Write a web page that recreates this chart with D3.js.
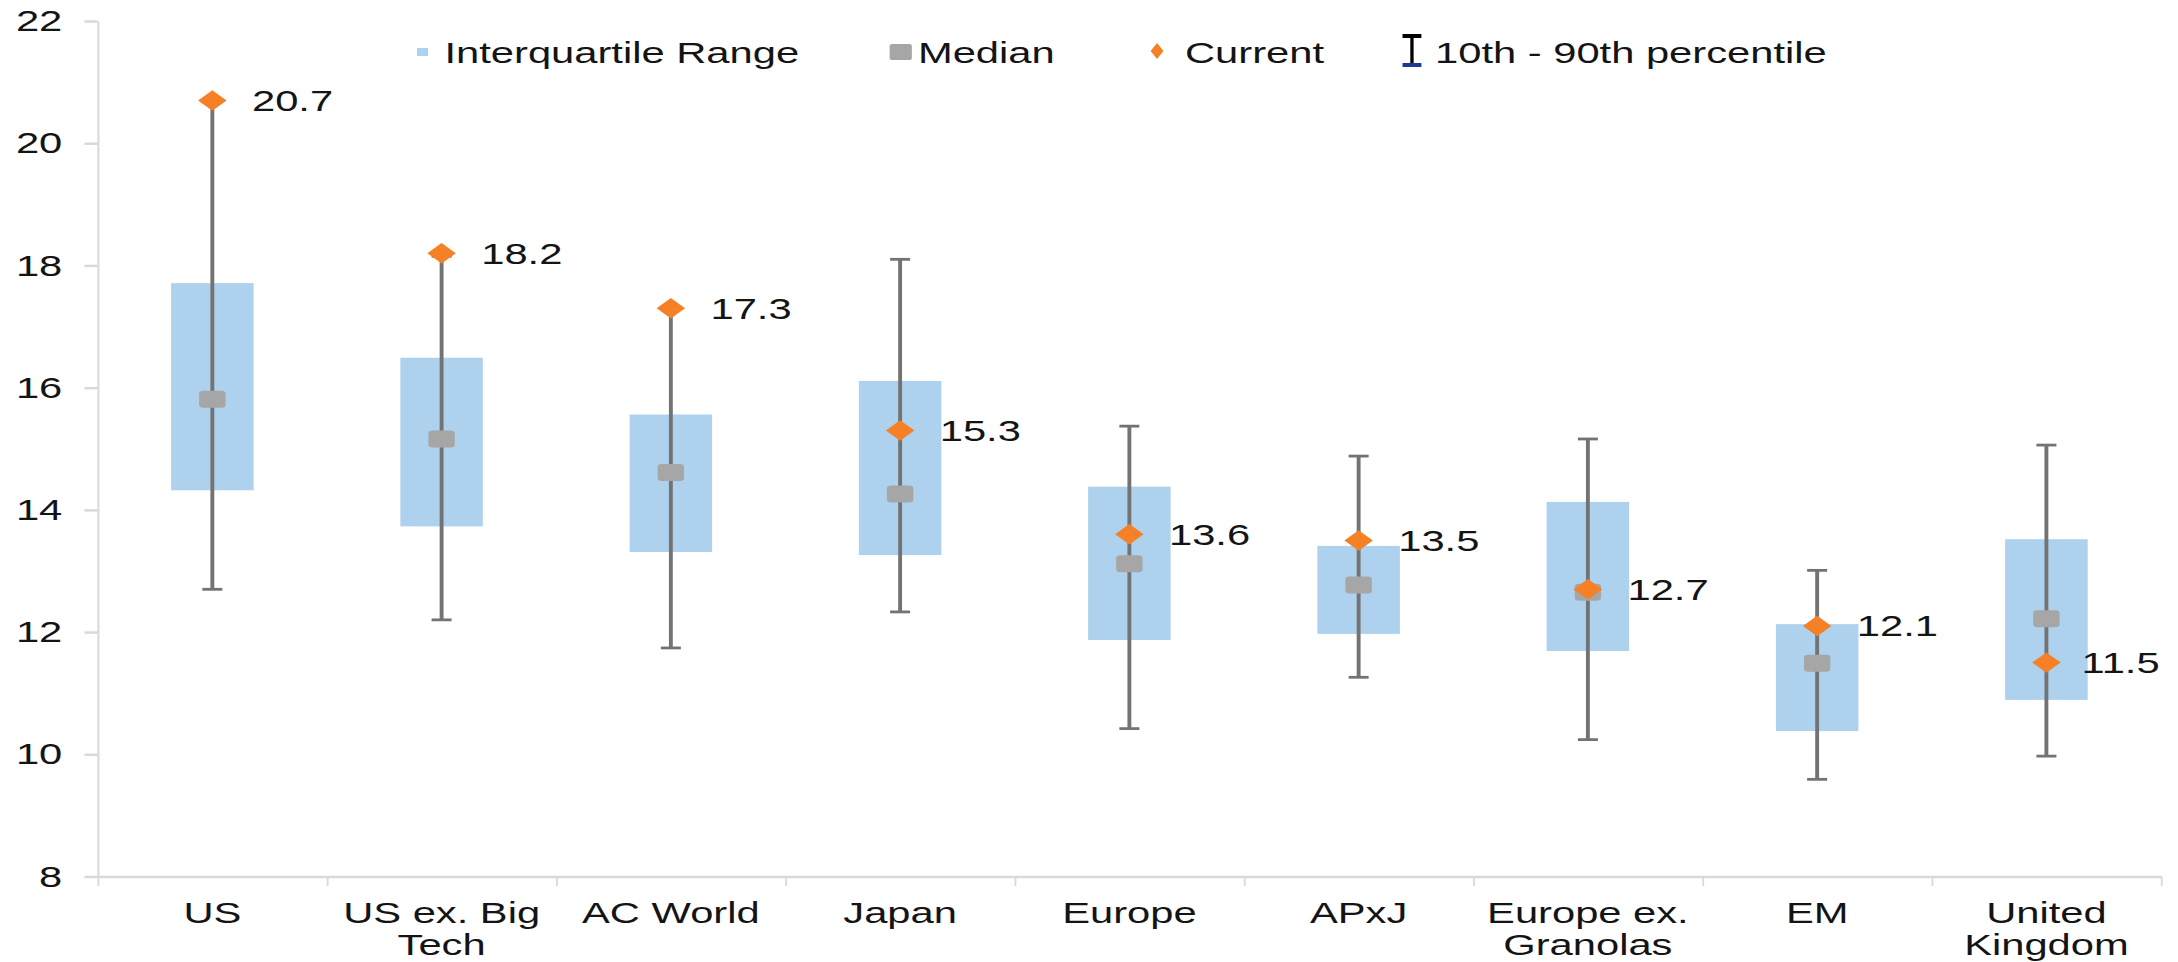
<!DOCTYPE html>
<html lang="en">

<head>
  <meta charset="UTF-8">
  <title>Valuation ranges by region</title>
  <script src="https://cdnjs.cloudflare.com/ajax/libs/d3/7.8.5/d3.min.js"></script>
  <style>
    body { margin: 0; background: #fff; }
    svg { display: block; }
    text { font-family: "Liberation Sans", Arial, sans-serif; }
  </style>
</head>

<body>
  <div id="chart">
    <!-- chart goes here -->
  </div>
  <script>
// categories and the wrapped tick labels
var categories = ["US", "US ex. Big Tech", "AC World", "Japan", "Europe", "APxJ",
  "Europe ex. Granolas", "EM", "United Kingdom"];
var tickLines = [["US"], ["US ex. Big", "Tech"], ["AC World"], ["Japan"], ["Europe"], ["APxJ"],
  ["Europe ex.", "Granolas"], ["EM"], ["United", "Kingdom"]];

// values
var p10 = [12.70, 12.20, 11.74, 12.33, 10.42, 11.26, 10.24, 9.59, 9.97];
var q1 = [14.32, 13.73, 13.31, 13.26, 11.87, 11.97, 11.69, 10.38, 10.89];
var median = [15.81, 15.16, 14.61, 14.26, 13.12, 12.77, 12.65, 11.49, 12.22];
var q3 = [17.71, 16.49, 15.56, 16.11, 14.38, 13.41, 14.13, 12.13, 13.52];
var p90 = [20.7, 18.15, 17.32, 18.10, 15.37, 14.88, 15.16, 13.01, 15.06];
var current = [20.7, 18.2, 17.3, 15.3, 13.6, 13.5, 12.7, 12.1, 11.5];

var yTicks = [8, 10, 12, 14, 16, 18, 20, 22];

var svgWidth = 2178;
var svgHeight = 962;

// the picture is stretched sideways, so draw in a narrower box and let the viewBox stretch it
var stretch = 1.39;
var viewWidth = svgWidth / stretch;

var svg = d3.select("#chart")
  .append("svg")
  .attr("width", svgWidth)
  .attr("height", svgHeight)
  .attr("viewBox", `0 0 ${viewWidth} ${svgHeight}`)
  .attr("preserveAspectRatio", "none");

var x = d3.scaleBand().domain(categories).range([70.3, 1554.7]);
var y = d3.scaleLinear().domain([8, 22]).range([876.5, 21]);
var cx = d => x(d) + x.bandwidth() / 2;

var axisGrey = "#d9d9d9";
var textColor = "#141414";

// y axis
var yAxis = svg.append("g")
  .attr("transform", `translate(${x.range()[0]},0)`)
  .call(d3.axisLeft(y).tickValues(yTicks).tickSize(9.5).tickSizeOuter(0).tickPadding(16));
yAxis.attr("font-size", 30).attr("font-family", null);
yAxis.select(".domain").attr("stroke", axisGrey).attr("stroke-width", 1.5);
yAxis.selectAll(".tick line").attr("stroke", axisGrey).attr("stroke-width", 2.5);
yAxis.selectAll(".tick text").attr("fill", textColor);

// x axis line with marks between categories
var edges = d3.scaleLinear().domain([0, categories.length]).range(x.range());
var xAxis = svg.append("g")
  .attr("transform", `translate(0,${y(8)})`)
  .call(d3.axisBottom(edges).tickValues(d3.range(categories.length + 1))
    .tickSize(9.5).tickSizeOuter(0).tickFormat(""));
xAxis.select(".domain").attr("stroke", axisGrey).attr("stroke-width", 2.5);
xAxis.selectAll(".tick line").attr("stroke", axisGrey).attr("stroke-width", 1.3);

// category labels, two lines where needed
var labelAxis = svg.append("g")
  .attr("transform", `translate(0,${y(8)})`)
  .call(d3.axisBottom(x).tickSize(0).tickFormat(""));
labelAxis.attr("font-size", 30).attr("font-family", null);
labelAxis.select(".domain").remove();
labelAxis.selectAll(".tick text").each(function(d) {
  var t = d3.select(this).attr("dy", null).attr("y", null).attr("fill", textColor);
  tickLines[categories.indexOf(d)].forEach(function(line, i) {
    t.append("tspan").attr("x", 0).attr("y", 46.5 + i * 32).text(line);
  });
});

var chart = svg.append("g");

// interquartile boxes
var boxW = x.bandwidth() * 0.36;
chart.append("g").selectAll("rect")
  .data(categories)
  .join("rect")
  .attr("x", d => cx(d) - boxW / 2)
  .attr("y", (d, i) => y(q3[i]))
  .attr("width", boxW)
  .attr("height", (d, i) => y(q1[i]) - y(q3[i]))
  .attr("fill", "#aed2ee");

// 10th - 90th whiskers
var whiskers = chart.append("g").attr("stroke", "#737373").attr("stroke-width", 2.8);
whiskers.selectAll(".stem")
  .data(categories)
  .join("line")
  .attr("class", "stem")
  .attr("x1", cx).attr("x2", cx)
  .attr("y1", (d, i) => y(p10[i]))
  .attr("y2", (d, i) => y(p90[i]));
var capW = 14.4;
[p10, p90].forEach(function(vals, k) {
  whiskers.selectAll(".cap" + k)
    .data(categories)
    .join("line")
    .attr("class", "cap" + k)
    .attr("x1", d => cx(d) - capW / 2)
    .attr("x2", d => cx(d) + capW / 2)
    .attr("y1", (d, i) => y(vals[i]))
    .attr("y2", (d, i) => y(vals[i]));
});

// medians
var medW = 19, medH = 17;
chart.append("g").selectAll("rect")
  .data(categories)
  .join("rect")
  .attr("x", d => cx(d) - medW / 2)
  .attr("y", (d, i) => y(median[i]) - medH / 2)
  .attr("width", medW)
  .attr("height", medH)
  .attr("rx", 3)
  .attr("fill", "#a6a6a6");

// current values
var orange = "#f58025";
var diamond = d3.symbol(d3.symbolSquare, 210);
chart.append("g").selectAll("path")
  .data(categories)
  .join("path")
  .attr("d", diamond)
  .attr("transform", (d, i) => `translate(${cx(d)},${y(current[i])}) rotate(45)`)
  .attr("fill", orange);

var rightEdge = x.range()[1] - 1;
chart.append("g").selectAll("text")
  .data(categories)
  .join("text")
  .attr("x", d => cx(d) + 28.5)
  .attr("y", (d, i) => y(current[i]))
  .attr("dy", "0.35em")
  .attr("font-size", 30)
  .attr("fill", textColor)
  .text((d, i) => current[i].toFixed(1))
  .each(function() {
    // keep the label inside the plot, like the last one in the picture
    var w = this.getComputedTextLength();
    var x0 = +d3.select(this).attr("x");
    if (x0 + w > rightEdge) d3.select(this).attr("x", rightEdge - w);
  });

// legend
var legend = svg.append("g").attr("font-size", 30).attr("fill", textColor);
var baseY = 63;
legend.append("rect").attr("x", 300).attr("y", 48).attr("width", 8).attr("height", 8).attr("fill", "#aed2ee");
legend.append("text").attr("x", 319.8).attr("y", baseY).text("Interquartile Range");

legend.append("rect").attr("x", 640).attr("y", 44).attr("width", 16).attr("height", 16).attr("rx", 2).attr("fill", "#a6a6a6");
legend.append("text").attr("x", 660.4).attr("y", baseY).text("Median");

legend.append("path").attr("d", d3.symbol(d3.symbolDiamond, 74)).attr("transform", "translate(832.4,51)").attr("fill", orange);
legend.append("text").attr("x", 852.5).attr("y", baseY).text("Current");

var barX = 1015.8;
legend.append("line").attr("x1", barX).attr("x2", barX).attr("y1", 36).attr("y2", 65).attr("stroke", "#000").attr("stroke-width", 2.4);
legend.append("line").attr("x1", barX - 6.8).attr("x2", barX + 6.8).attr("y1", 36).attr("y2", 36).attr("stroke", "#000").attr("stroke-width", 4);
legend.append("line").attr("x1", barX - 6.8).attr("x2", barX + 6.8).attr("y1", 65).attr("y2", 65).attr("stroke", "#1c3a94").attr("stroke-width", 4);
legend.append("text").attr("x", 1032.4).attr("y", baseY).text("10th - 90th percentile");
  </script>
</body>

</html>
